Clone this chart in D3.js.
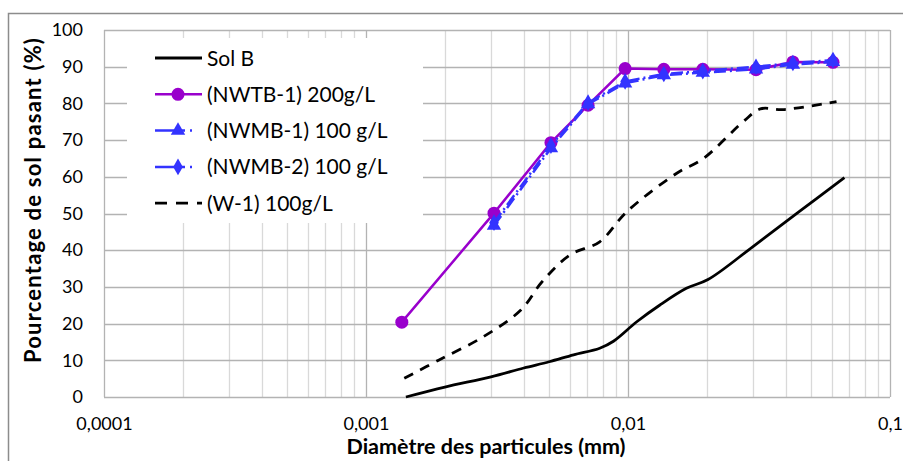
<!DOCTYPE html>
<html>
<head>
<meta charset="utf-8">
<script src="https://cdn.jsdelivr.net/npm/d3@7"></script>
<style>
  body { margin: 0; background: #fff; }
  text { font-family: Lato, "Open Sans", sans-serif; }
</style>
</head>
<body>
<div id="chart"></div>
<script>
// particle diameters (mm) and % passing
const solB_d = [0.00142, 0.002, 0.003, 0.004, 0.005, 0.0062, 0.0078, 0.0088, 0.0108, 0.0132, 0.0167, 0.0202, 0.03, 0.045, 0.067];
const solB_p = [0, 2.7, 5.5, 7.9, 9.6, 11.5, 13.3, 15.2, 20.5, 25, 29.6, 32, 41, 50.5, 59.8];

const w1_d = [0.0014, 0.0019, 0.0028, 0.0039, 0.0047, 0.006, 0.0078, 0.0099, 0.0153, 0.0194, 0.0275, 0.032, 0.039, 0.0625];
const w1_p = [5.1, 10.1, 16.4, 23.7, 31.4, 38.7, 42.3, 50.5, 60.9, 65, 75, 78.5, 78.3, 80.5];

const nwtb1_d = [0.00137, 0.00308, 0.00508, 0.00704, 0.00975, 0.0137, 0.0193, 0.0308, 0.0426, 0.0606];
const nwtb1_p = [20.4, 50.1, 69.3, 79.5, 89.5, 89.3, 89.3, 89.2, 91.3, 91.2];

const nwmb_d = [0.00308, 0.00508, 0.00704, 0.00975, 0.0137, 0.0193, 0.0308, 0.0426, 0.0606];
const nwmb1_p = [46.7, 67.8, 79.8, 85.5, 87.7, 88.4, 89.3, 90.6, 91.3];
const nwmb2_p = [47.5, 68.5, 80.2, 86, 88, 88.8, 90, 91, 91.8];

const xTicks = [0.0001, 0.001, 0.01, 0.1];
const xTickLabels = ["0,0001", "0,001", "0,01", "0,1"];
const yTicks = [0, 10, 20, 30, 40, 50, 60, 70, 80, 90, 100];

const W = 903, H = 461;
const purple = "#9900cc", blue = "#3333ff";

const svg = d3.select("#chart").append("svg")
  .attr("width", W)
  .attr("height", H);

// outer chart frame
svg.append("rect")
  .attr("x", 8.5).attr("y", 13.5)
  .attr("width", 920).attr("height", 480)
  .attr("fill", "#fff")
  .attr("stroke", "#8c8c8c")
  .attr("stroke-width", 1.5);

const x = d3.scaleLog().domain([1e-4, 0.1]).range([104, 890]);
const y = d3.scaleLinear().domain([0, 100]).range([397, 30]);

// minor vertical grid lines
let minor = [];
[1e-4, 1e-3, 1e-2].forEach(dec => {
  for (let k = 2; k <= 9; k++) minor.push(dec * k);
});
svg.append("g")
  .selectAll("line")
  .data(minor)
  .enter()
  .append("line")
  .attr("x1", d => Math.round(x(d)) + 0.5)
  .attr("x2", d => Math.round(x(d)) + 0.5)
  .attr("y1", y(100))
  .attr("y2", y(0))
  .attr("stroke", "#d9d9d9")
  .attr("stroke-width", 1.3);

// major grid lines
svg.append("g")
  .selectAll("line")
  .data(xTicks)
  .enter()
  .append("line")
  .attr("x1", d => Math.round(x(d)) + 0.5)
  .attr("x2", d => Math.round(x(d)) + 0.5)
  .attr("y1", y(100))
  .attr("y2", y(0))
  .attr("stroke", "#b3b3b3")
  .attr("stroke-width", 1.3);

svg.append("g")
  .selectAll("line")
  .data(yTicks)
  .enter()
  .append("line")
  .attr("x1", x(1e-4))
  .attr("x2", x(0.1))
  .attr("y1", d => Math.round(y(d)) + 0.5)
  .attr("y2", d => Math.round(y(d)) + 0.5)
  .attr("stroke", "#b3b3b3")
  .attr("stroke-width", 1.3);

// axes (labels only, lines come from the grid)
const xAxis = d3.axisBottom(x)
  .tickValues(xTicks)
  .tickFormat((d, i) => xTickLabels[i])
  .tickSize(0)
  .tickPadding(20);
const gx = svg.append("g").attr("transform", `translate(0,${y(0)})`).call(xAxis);
gx.select(".domain").remove();
gx.selectAll("text").attr("font-size", 18).attr("fill", "#000").attr("font-family", "Lato");

const yAxis = d3.axisLeft(y)
  .tickValues(yTicks)
  .tickSize(0)
  .tickPadding(21);
const gy = svg.append("g").attr("transform", `translate(${x(1e-4)},0)`).call(yAxis);
gy.select(".domain").remove();
gy.selectAll("text").attr("font-size", 18).attr("fill", "#000").attr("font-family", "Lato");

// legend background hides the grid
svg.append("rect")
  .attr("x", 127).attr("y", 38)
  .attr("width", 296).attr("height", 185)
  .attr("fill", "#fff");

// series
const pts = (ds, ps) => ds.map((d, i) => [d, ps[i]]);
const lineSmooth = d3.line().x(d => x(d[0])).y(d => y(d[1])).curve(d3.curveCatmullRom.alpha(0.5));
const lineStraight = d3.line().x(d => x(d[0])).y(d => y(d[1]));

svg.append("path")
  .datum(pts(solB_d, solB_p))
  .attr("d", lineSmooth)
  .attr("fill", "none")
  .attr("stroke", "#000")
  .attr("stroke-width", 2.8);

svg.append("path")
  .datum(pts(w1_d, w1_p))
  .attr("d", lineSmooth)
  .attr("fill", "none")
  .attr("stroke", "#000")
  .attr("stroke-width", 2.8)
  .attr("stroke-dasharray", "10,8");

const triangle = d3.symbol().type(d3.symbolTriangle).size(90);
const diamond = d3.symbol().type(d3.symbolDiamond).size(80);

function series(data, color, dash, marker) {
  svg.append("path")
    .datum(data)
    .attr("d", lineStraight)
    .attr("fill", "none")
    .attr("stroke", color)
    .attr("stroke-width", 2.5)
    .attr("stroke-dasharray", dash);
  const g = svg.append("g");
  if (marker === "circle") {
    g.selectAll("circle").data(data).enter().append("circle")
      .attr("cx", d => x(d[0])).attr("cy", d => y(d[1]))
      .attr("r", 6.5).attr("fill", color);
  } else {
    g.selectAll("path").data(data).enter().append("path")
      .attr("d", marker === "triangle" ? triangle : diamond)
      .attr("transform", d => `translate(${x(d[0])},${y(d[1])})`)
      .attr("fill", color);
  }
}

series(pts(nwtb1_d, nwtb1_p), purple, null, "circle");
series(pts(nwmb_d, nwmb2_p), blue, "12,4,2,4", "diamond");
series(pts(nwmb_d, nwmb1_p), blue, "12,4,2,4", "triangle");

// legend
const legend = [
  { name: "Sol B", color: "#000", dash: null, marker: null },
  { name: "(NWTB-1) 200g/L", color: purple, dash: null, marker: "circle" },
  { name: "(NWMB-1) 100 g/L", color: blue, dash: "30,5,2,30", marker: "triangle" },
  { name: "(NWMB-2) 100 g/L", color: blue, dash: "30,5,2,30", marker: "diamond" },
  { name: "(W-1) 100g/L", color: "#000", dash: "12,9", marker: null }
];
const lg = svg.append("g").selectAll("g").data(legend).enter().append("g")
  .attr("transform", (d, i) => `translate(155,${58 + i * 36.3})`);
lg.append("line")
  .attr("x1", 0).attr("x2", 47).attr("y1", 0).attr("y2", 0)
  .attr("stroke", d => d.color)
  .attr("stroke-width", d => d.marker ? 2.5 : 2.8)
  .attr("stroke-dasharray", d => d.dash);
lg.filter(d => d.marker === "circle").append("circle")
  .attr("cx", 23).attr("r", 6.5).attr("fill", d => d.color);
lg.filter(d => d.marker === "triangle").append("path")
  .attr("d", triangle).attr("transform", "translate(23,0)").attr("fill", d => d.color);
lg.filter(d => d.marker === "diamond").append("path")
  .attr("d", diamond).attr("transform", "translate(23,0)").attr("fill", d => d.color);
lg.append("text")
  .attr("x", 52).attr("y", 7.5)
  .attr("font-size", 21)
  .text(d => d.name);

// axis titles
svg.append("text")
  .attr("x", 486).attr("y", 454)
  .attr("text-anchor", "middle")
  .attr("font-size", 21.5)
  .attr("font-weight", "bold")
  .text("Diamètre des particules (mm)");

svg.append("text")
  .attr("transform", "translate(41,200) rotate(-90)")
  .attr("text-anchor", "middle")
  .attr("font-size", 22)
  .attr("font-weight", "bold")
  .attr("letter-spacing", 1.2)
  .text("Pourcentage de sol pasant (%)");
</script>
</body>
</html>
